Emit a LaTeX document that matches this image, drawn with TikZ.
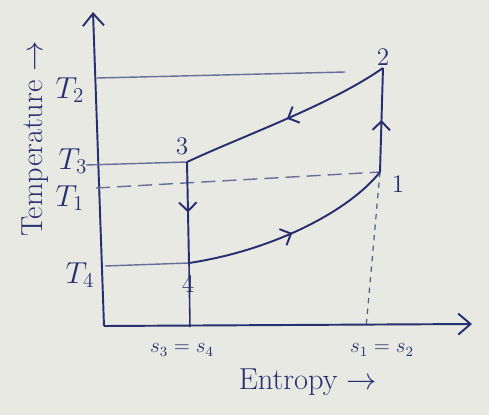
\documentclass[tikz,border=0pt]{standalone}
\usepackage{amsmath}
\usepackage{tikz}
\usetikzlibrary{arrows.meta, positioning, decorations.markings}
\definecolor{ink}{RGB}{38,48,112}
\definecolor{paper}{RGB}{232,233,226}

\tikzset{
  axisline/.style={ink, line width=1.1pt, -{Straight Barb[length=7pt,width=12pt]}},
  levelline/.style={ink!70, line width=0.8pt},
  process/.style={ink, line width=1.1pt, postaction={decorate},
    decoration={markings, mark=at position 0.5 with
      {\arrow{Straight Barb[length=5pt,width=10pt]}}}},
  statelabel/.style={ink, font=\Large},
  templabel/.style={ink, font=\LARGE},
  axislabel/.style={ink, font=\large},
  titlelabel/.style={ink, font=\LARGE}
}

\begin{document}
\begin{tikzpicture}

  % Paper and frame
  \fill[paper] (0,0) rectangle (9.78,8.3);
  \useasboundingbox (0,0) rectangle (9.78,8.3);

  % Axes
  \coordinate (o) at (2.08,1.78);
  \coordinate (ytop) at (1.86,8.06);
  \coordinate (xend) at (9.44,1.82);
  \draw[axisline] (o) -- (ytop);
  \draw[axisline] (o) -- (xend);

  % State points
  \coordinate (p1) at (7.60,4.86);
  \coordinate (p2) at (7.66,6.94);
  \coordinate (p3) at (3.74,5.06);
  \coordinate (p4) at (3.78,3.04);
  \coordinate (f34) at (3.80,1.76);
  \coordinate (f12) at (7.32,1.74);

  % Temperature levels
  \coordinate (t2a) at (1.94,6.74);
  \coordinate (t2b) at (6.90,6.86);
  \coordinate (t3a) at (1.72,5.00);
  \coordinate (t1a) at (1.92,4.54);
  \coordinate (t4a) at (2.10,2.98);
  \draw[levelline] (t2a) -- (t2b);
  \draw[levelline] (t3a) -- (p3);
  \draw[levelline, dashed, dash pattern=on 8pt off 4pt] (t1a) -- (p1);
  \draw[levelline] (t4a) -- (p4);

  % Projections to entropy axis
  \draw[ink, line width=0.9pt] (p4) -- (f34);
  \draw[ink!80, line width=0.7pt, dashed] (p1) -- (f12);

  % Cycle
  \draw[process] (p1) -- (p2);
  \draw[process] (p2) .. controls (6.6,6.2) and (4.9,5.6) .. (p3);
  \draw[process] (p3) -- (p4);
  \draw[process] (p4) .. controls (5.5,3.3) and (7.0,4.1) .. (p1);

  % State labels
  \node[statelabel] (n1) at (7.96,4.62) {1};
  \node[statelabel] (n2) at (7.66,7.16) {2};
  \node[statelabel] (n3) at (3.64,5.38) {3};
  \node[statelabel] (n4) at (3.76,2.62) {4};

  % Temperature labels
  \node[templabel] (lt2) at (1.40,6.50) {$T_2$};
  \node[templabel] (lt3) at (1.46,5.08) {$T_3$};
  \node[templabel] (lt1) at (1.40,4.34) {$T_1$};
  \node[templabel] (lt4) at (1.60,2.80) {$T_4$};

  % Entropy labels
  \node[axislabel] (ls34) at (3.64,1.30) {$s_3=s_4$};
  \node[axislabel] (ls12) at (7.64,1.30) {$s_1=s_2$};

  % Axis titles
  \node[titlelabel, rotate=90] (ty) at (0.70,5.52) {Temperature $\rightarrow$};
  \node[titlelabel] (tx) at (6.16,0.66) {Entropy $\rightarrow$};

\end{tikzpicture}
\end{document}
